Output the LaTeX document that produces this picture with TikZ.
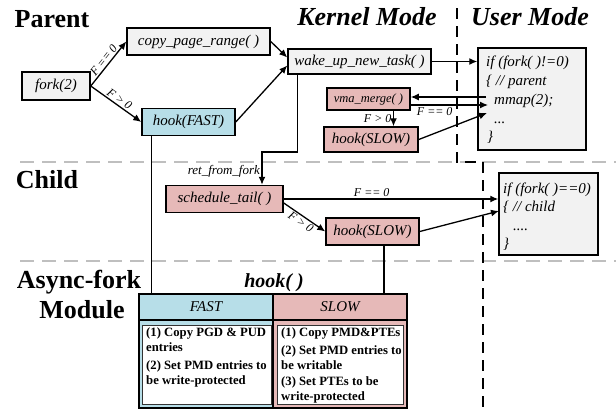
\documentclass[tikz,border=0pt]{standalone}
\usepackage{fontspec}
\setmainfont{Liberation Serif}
\usetikzlibrary{arrows.meta}
\definecolor{boxgray}{HTML}{F2F2F2}
\definecolor{fastblue}{HTML}{B7DEE8}
\definecolor{slowpink}{HTML}{E6B9B8}
\definecolor{divgray}{HTML}{BFBFBF}
\begin{document}
\begin{tikzpicture}[x=1pt,y=-1pt,
    func/.style={draw,line width=1.5pt,fill=boxgray,inner sep=1pt,font=\fontsize{15}{18}\selectfont\itshape},
    codebox/.style={draw,line width=1.5pt,fill=boxgray},
    code/.style={anchor=base west,inner sep=0pt,font=\fontsize{15}{18}\selectfont\itshape},
    lbl/.style={inner sep=1.5pt,font=\fontsize{12}{14}\selectfont\itshape},
    head/.style={anchor=base,inner sep=0pt,font=\fontsize{26}{30}\selectfont\bfseries},
    arr/.style={line width=1.3pt,-{Latex[length=8pt,width=7pt]}},
    conn/.style={line width=1.3pt},
    cell/.style={draw,line width=1.5pt,minimum width=134pt},
    celltxt/.style={anchor=north west,align=left,inner sep=0pt,font=\fontsize{12.7}{15}\selectfont\bfseries}]
  \useasboundingbox (0,0) rectangle (616,410);

  % region separators
  \draw[divgray,line width=1.2pt,dash pattern=on 14pt off 8pt] (20,162) -- (616,162);
  \draw[divgray,line width=1.2pt,dash pattern=on 14pt off 8pt] (20,261) -- (616,261);
  \draw[line width=1.5pt,dash pattern=on 11pt off 7pt] (457,8) -- (457,162) -- (483,162) -- (483,410);

  \node[head] (parent) at (52,27) {Parent};
  \node[head,font=\fontsize{26}{30}\selectfont\bfseries\itshape] (kmode) at (367,25) {Kernel Mode};
  \node[head,font=\fontsize{26}{30}\selectfont\bfseries\itshape] (umode) at (530,25) {User Mode};
  \node[head] (child) at (47,188) {Child};
  \node[head] (async) at (79,288) {Async-fork};
  \node[head] (module) at (82,318) {Module};

  % parent side
  \node[func,minimum width=68pt,minimum height=28pt] (fork) at (56,86) {fork(2)};
  \node[func,minimum width=143pt,minimum height=27pt] (copy) at (198.5,41.5) {copy\_page\_range( )};
  \node[func,fill=fastblue,minimum width=93pt,minimum height=27pt] (hf) at (188.5,122) {hook(FAST)};
  \node[func,minimum width=143pt,minimum height=25pt] (wake) at (359.5,61.5) {wake\_up\_new\_task( )};
  \node[func,fill=slowpink,minimum width=83pt,minimum height=22pt,font=\fontsize{12.5}{15}\selectfont\itshape] (vma) at (368.5,99) {vma\_merge( )};
  \node[func,fill=slowpink,minimum width=94pt,minimum height=25pt] (hsp) at (371,139.5) {hook(SLOW)};

  \node[codebox,minimum width=108pt,minimum height=102pt] (pbox) at (532,99) {};
  \node[code] (p1) at (486,66) {if (fork( )!=0)};
  \node[code] (p2) at (486,85) {\{ // parent};
  \node[code] (p3) at (494,104) {mmap(2);};
  \node[code] (p4) at (494,123) {...};
  \node[code] (p5) at (487,141) {\}};

  \draw[arr] (fork.east) -- (copy.west) node[lbl,midway,sloped,above] {F == 0};
  \draw[arr] (fork.east) -- (hf.west) node[lbl,midway,sloped,above] {F > 0};
  \draw[arr] (copy.east) -- ([yshift=4pt]wake.west);
  \draw[arr] (hf.east) -- ([yshift=-4pt]wake.west);
  \draw[arr] (wake.east) -- (wake.east -| pbox.west);

  \coordinate (mm1) at (486,97);
  \coordinate (mm2) at (488,105);
  \coordinate (dots) at (487,113);
  \draw[arr] (mm1) -- (mm1 -| vma.east);
  \draw[arr] (mm2 -| vma.east) -- (mm2) node[lbl,pos=0.31,below] {F == 0};
  \coordinate (vs) at ([xshift=25pt]vma.south);
  \draw[arr] (vs) -- (vs |- hsp.north) node[lbl,midway,left] {F > 0};
  \draw[arr] (hsp.east) -- (dots);

  % child side
  \node[func,fill=slowpink,minimum width=117pt,minimum height=27pt] (st) at (224.5,199) {schedule\_tail( )};
  \node[func,fill=slowpink,minimum width=93pt,minimum height=27pt] (hsc) at (372.5,231.5) {hook(SLOW)};
  \node[codebox,minimum width=99pt,minimum height=82pt] (cbox) at (548.5,214) {};
  \node[code] (c1) at (503,193) {if (fork( )==0)};
  \node[code] (c2) at (503,211) {\{ // child};
  \node[code] (c3) at (513,230) {....};
  \node[code] (c4) at (503,248) {\}};

  \coordinate (rf) at (262,152);
  \draw[arr] ([xshift=10pt]wake.south west) |- (rf) -- (rf |- st.north)
    node[lbl,pos=0.6,left,font=\fontsize{13}{15}\selectfont\itshape] {ret\_from\_fork};
  \draw[arr] (st.east) -- (st.east -| cbox.west) node[lbl,pos=0.41,above] {F == 0};
  \draw[arr] ([yshift=-4pt]st.east) -- (hsc.west) node[lbl,midway,sloped,below] {F > 0};
  \coordinate (cc2) at (499,211);
  \draw[arr] (hsc.east) -- (cc2);

  % async-fork module
  \node[anchor=base,inner sep=0pt,font=\fontsize{20}{24}\selectfont\bfseries\itshape] (hooktitle) at (274,287) {hook( )};
  \node[cell,fill=fastblue,minimum height=26pt,font=\fontsize{15}{18}\selectfont\itshape] (fasthd) at (206,307) {FAST};
  \node[cell,fill=slowpink,minimum height=26pt,font=\fontsize{15}{18}\selectfont\itshape] (slowhd) at (340,307) {SLOW};
  \node[cell,fill=fastblue,minimum height=88pt] (fastbd) at (206,364) {};
  \node[cell,fill=slowpink,minimum height=88pt] (slowbd) at (340,364) {};
  \node[draw=black!80,line width=1pt,fill=white,minimum width=129pt,minimum height=79pt] (fastin) at (206.5,364.5) {};
  \node[draw=black!80,line width=1pt,fill=white,minimum width=126pt,minimum height=79pt] (slowin) at (340,364.5) {};
  \node[celltxt] (fasttxt) at (146,327) {(1) Copy PGD \& PUD\\entries\\[3pt](2) Set PMD entries to\\be write-protected};
  \node[celltxt] (slowtxt) at (281,327) {(1) Copy PMD\&PTEs\\[3pt](2) Set PMD entries to\\be writable\\[1pt](3) Set PTEs to be\\write-protected};

  \coordinate (hfx) at ([xshift=10pt]hf.south west);
  \coordinate (hsx) at ([xshift=11.5pt]hsc.south);
  \draw[conn] (hfx) -- (hfx |- fasthd.north);
  \draw[conn] (hsx) -- (hsx |- slowhd.north);
\end{tikzpicture}
\end{document}
